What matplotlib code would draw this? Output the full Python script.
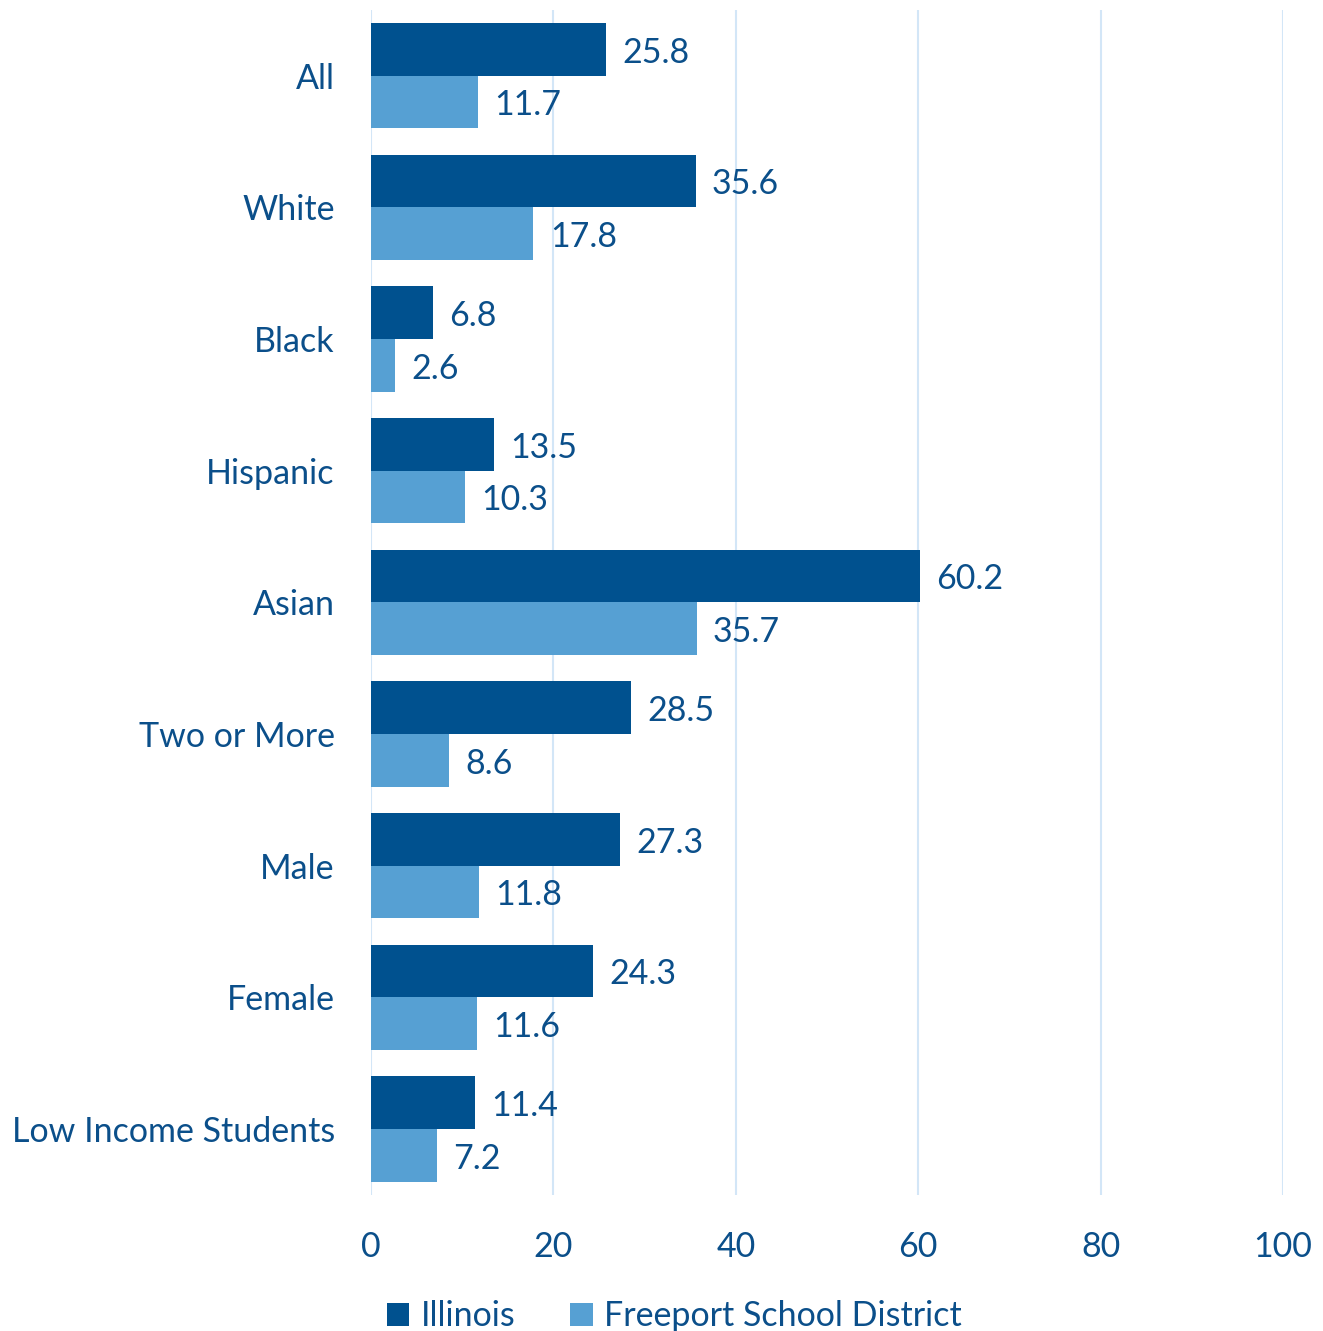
import matplotlib.pyplot as plt
import numpy as np

categories = ['All', 'White', 'Black', 'Hispanic', 'Asian', 'Two or More',
              'Male', 'Female', 'Low Income Students']
illinois = [25.8, 35.6, 6.8, 13.5, 60.2, 28.5, 27.3, 24.3, 11.4]
freeport = [11.7, 17.8, 2.6, 10.3, 35.7, 8.6, 11.8, 11.6, 7.2]

dark = '#00518f'
light = '#56a0d3'
txt = '#0b4f8a'
fs = 24.5

plt.rcParams['font.family'] = ['Lato', 'DejaVu Sans']

fig = plt.figure(figsize=(13.23, 13.31), dpi=100)
ax = fig.add_axes([0.2804, 0.1022, 0.6894, 0.8903])

y = np.arange(len(categories))
h = 0.4
b1 = ax.barh(y - h / 2, illinois, height=h, color=dark, label='Illinois', zorder=3)
b2 = ax.barh(y + h / 2, freeport, height=h, color=light, label='Freeport School District', zorder=3)

# value labels just right of each bar
for bars in (b1, b2):
    for r in bars:
        ax.text(r.get_width() + 1.8, r.get_y() + r.get_height() / 2 + 0.025, f'{r.get_width():.1f}',
                va='center', ha='left', fontsize=fs, color=txt)

ax.set_xlim(0, 100)
ax.set_ylim(8.5, -0.5)
ax.set_xticks(range(0, 101, 20))
ax.set_yticks(y)
ax.set_yticklabels(categories)
ax.tick_params(axis='both', length=0, labelsize=fs, labelcolor=txt)
ax.tick_params(axis='y', pad=26)
ax.tick_params(axis='x', pad=26)
ax.grid(axis='x', color='#d3e6f7', linewidth=1.5, zorder=0)
for s in ax.spines.values():
    s.set_visible(False)

fig.legend(loc='lower center', bbox_to_anchor=(0.51, -0.024), ncol=2, frameon=False,
           fontsize=fs, labelcolor=txt, handlelength=0.65, handleheight=0.65,
           handletextpad=0.35, columnspacing=1.6)

fig.savefig('out.png', dpi=100)
